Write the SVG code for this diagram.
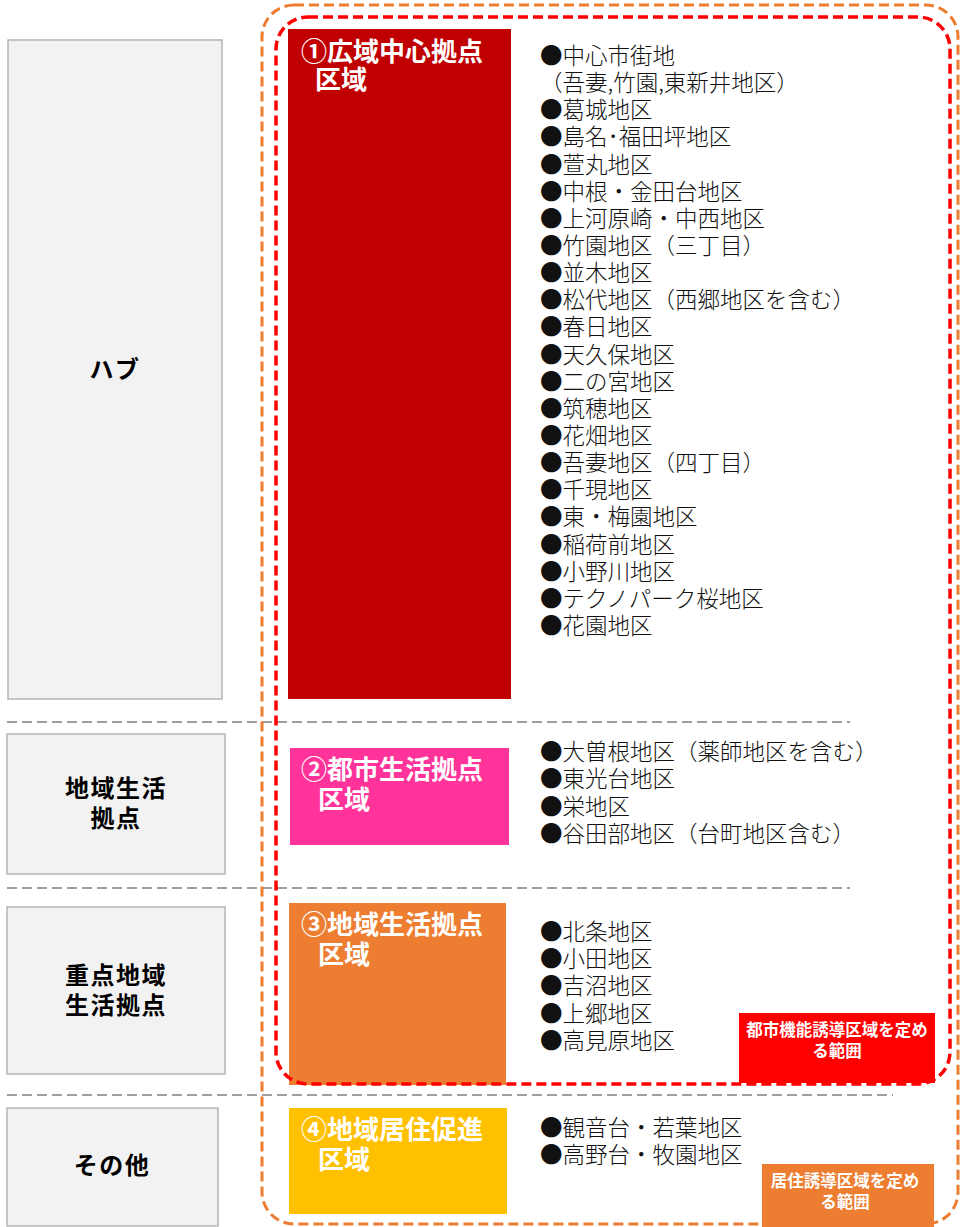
<svg xmlns="http://www.w3.org/2000/svg" width="962" height="1227" viewBox="0 0 962 1227">
<style>
.cat{fill:#F2F2F2;stroke:#B4B4B4;stroke-width:1.5}
.catt{font-family:"Noto Sans CJK JP","Noto Sans",sans-serif;font-weight:bold;font-size:24px;fill:#000;text-anchor:middle;letter-spacing:1.5px}
.hd{font-family:"Noto Sans CJK JP","Noto Sans",sans-serif;font-weight:bold;font-size:26px;fill:#fff}
.li{font-family:"Noto Sans CJK JP","Noto Sans",sans-serif;font-weight:300;font-size:22.5px;fill:#111}
.sm{font-family:"Noto Sans CJK JP","Noto Sans",sans-serif;font-weight:bold;font-size:16.5px;fill:#fff;text-anchor:middle}
.sep{stroke:#808080;stroke-width:1.5;stroke-dasharray:10 5;fill:none}
</style>
<rect width="962" height="1227" fill="#fff"/>
<g id="connectors">
<line class="sep" x1="7" y1="722" x2="850" y2="722"/>
<line class="sep" x1="7" y1="888" x2="850" y2="888"/>
<line class="sep" x1="7" y1="1095" x2="893" y2="1095"/>
</g>
<g id="cat-hub"><rect class="cat" x="8" y="40" width="214" height="659"/><text class="catt" x="115" y="378">ハブ</text></g>
<g id="cat-chiiki"><rect class="cat" x="7" y="734" width="218" height="140"/><text class="catt"><tspan x="116" y="797">地域生活</tspan><tspan x="116" y="827">拠点</tspan></text></g>
<g id="cat-juten"><rect class="cat" x="7" y="907" width="218" height="167"/><text class="catt"><tspan x="116" y="984">重点地域</tspan><tspan x="116" y="1014">生活拠点</tspan></text></g>
<g id="cat-other"><rect class="cat" x="7" y="1108" width="211" height="118"/><text class="catt" x="112" y="1174">その他</text></g>

<g id="zone1"><rect x="288" y="29" width="223" height="670" fill="#C00000"/><text class="hd"><tspan x="301" y="61">①広域中心拠点</tspan><tspan x="315" y="89">区域</tspan></text></g>
<g id="zone2"><rect x="290" y="748" width="219" height="97" fill="#FF3399"/><text class="hd"><tspan x="301" y="779">②都市生活拠点</tspan><tspan x="318" y="809">区域</tspan></text></g>
<g id="zone3"><rect x="289" y="903" width="217" height="182" fill="#ED7D31"/><text class="hd"><tspan x="301" y="934">③地域生活拠点</tspan><tspan x="318" y="964">区域</tspan></text></g>
<g id="zone4"><rect x="289" y="1108" width="218" height="106" fill="#FFC000"/><text class="hd"><tspan x="301" y="1139">④地域居住促進</tspan><tspan x="318" y="1169">区域</tspan></text></g>

<g id="list1"><text class="li">
<tspan x="540" y="64">●中心市街地</tspan>
<tspan x="540" dy="27.14">（吾妻,竹園,東新井地区）</tspan>
<tspan x="540" dy="27.14">●葛城地区</tspan>
<tspan x="540" dy="27.14">●島名･福田坪地区</tspan>
<tspan x="540" dy="27.14">●萱丸地区</tspan>
<tspan x="540" dy="27.14">●中根・金田台地区</tspan>
<tspan x="540" dy="27.14">●上河原崎・中西地区</tspan>
<tspan x="540" dy="27.14">●竹園地区（三丁目）</tspan>
<tspan x="540" dy="27.14">●並木地区</tspan>
<tspan x="540" dy="27.14">●松代地区（西郷地区を含む）</tspan>
<tspan x="540" dy="27.14">●春日地区</tspan>
<tspan x="540" dy="27.14">●天久保地区</tspan>
<tspan x="540" dy="27.14">●二の宮地区</tspan>
<tspan x="540" dy="27.14">●筑穂地区</tspan>
<tspan x="540" dy="27.14">●花畑地区</tspan>
<tspan x="540" dy="27.14">●吾妻地区（四丁目）</tspan>
<tspan x="540" dy="27.14">●千現地区</tspan>
<tspan x="540" dy="27.14">●東・梅園地区</tspan>
<tspan x="540" dy="27.14">●稲荷前地区</tspan>
<tspan x="540" dy="27.14">●小野川地区</tspan>
<tspan x="540" dy="27.14">●テクノパーク桜地区</tspan>
<tspan x="540" dy="27.14">●花園地区</tspan>
</text></g>
<g id="list2"><text class="li">
<tspan x="540" y="760">●大曽根地区（薬師地区を含む）</tspan>
<tspan x="540" dy="27.3">●東光台地区</tspan>
<tspan x="540" dy="27.3">●栄地区</tspan>
<tspan x="540" dy="27.3">●谷田部地区（台町地区含む）</tspan>
</text></g>
<g id="list3"><text class="li">
<tspan x="540" y="940">●北条地区</tspan>
<tspan x="540" dy="27.2">●小田地区</tspan>
<tspan x="540" dy="27.2">●吉沼地区</tspan>
<tspan x="540" dy="27.2">●上郷地区</tspan>
<tspan x="540" dy="27.2">●高見原地区</tspan>
</text></g>
<g id="list4"><text class="li">
<tspan x="540" y="1136">●観音台・若葉地区</tspan>
<tspan x="540" dy="27.2">●高野台・牧園地区</tspan>
</text></g>

<g id="boundary-kyoju"><rect x="262" y="5" width="696" height="1219" rx="32" ry="32" fill="none" stroke="#ED7D31" stroke-width="3" stroke-dasharray="10 5"/></g>
<g id="boundary-toshi"><rect x="276" y="17" width="674" height="1067" rx="32" ry="32" fill="none" stroke="#FF0000" stroke-width="3.5" stroke-dasharray="10 5"/></g>

<g id="label-toshi"><rect x="739" y="1013" width="196" height="70" fill="#FF0000"/><text class="sm"><tspan x="837" y="1036">都市機能誘導区域を定め</tspan><tspan x="837" y="1057">る範囲</tspan></text></g>
<g id="label-kyoju"><rect x="762" y="1164" width="172" height="63" fill="#ED7D31"/><text class="sm"><tspan x="845" y="1187">居住誘導区域を定め</tspan><tspan x="845" y="1208">る範囲</tspan></text></g>
</svg>
